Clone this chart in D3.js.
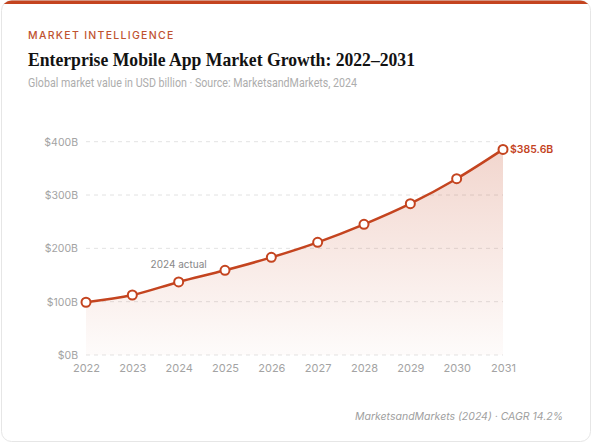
<!DOCTYPE html>
<html><head><meta charset="utf-8">
<script src="https://cdn.jsdelivr.net/npm/d3@7"></script>
<style>
html,body{margin:0;padding:0;background:#fff;}
svg{display:block;}
</style></head>
<body>
<svg id="chart" width="594" height="446"></svg>
<script>
const years = [2022,2023,2024,2025,2026,2027,2028,2029,2030,2031];
const values = [98.9,112.5,137.0,158.8,183.1,211.3,245.0,283.8,330.6,385.6];
const yTicks = [0,100,200,300,400];
const yTickLabels = ["$0B","$100B","$200B","$300B","$400B"];
const annotationYear = 2024;
const annotationText = "2024 actual";
const endLabel = "$385.6B";

const accent = "#c4441f";
const svg = d3.select("#chart");
const W = 594, H = 446;
const sans = "Inter, 'Noto Sans', sans-serif";

// card
const defs = svg.append("defs");
defs.append("clipPath").attr("id","cardClip")
  .append("rect").attr("x",1.5).attr("y",0.5).attr("width",589).attr("height",441).attr("rx",10);
const grad = defs.append("linearGradient").attr("id","areaGrad").attr("x1",0).attr("y1",0).attr("x2",0).attr("y2",1);
grad.append("stop").attr("offset","0%").attr("stop-color",accent).attr("stop-opacity",0.22);
grad.append("stop").attr("offset","100%").attr("stop-color",accent).attr("stop-opacity",0.02);

svg.append("rect").attr("x",1.5).attr("y",0.5).attr("width",589).attr("height",441).attr("rx",10)
  .attr("fill","#fff").attr("stroke","#e6e6e6");
svg.append("g").attr("clip-path","url(#cardClip)")
  .append("rect").attr("x",0).attr("y",0).attr("width",W).attr("height",4).attr("fill",accent);

// header
svg.append("text").attr("x",28).attr("y",39).text("MARKET INTELLIGENCE")
  .attr("font-family",sans).attr("font-size",10.5).attr("font-weight",500)
  .attr("letter-spacing",1.3).attr("fill","#c0522f");
svg.append("text").attr("x",28).attr("y",65.5).text("Enterprise Mobile App Market Growth: 2022–2031")
  .attr("font-family","'Liberation Serif', 'DejaVu Serif', serif").attr("font-size",19.5).attr("font-weight",700)
  .attr("fill","#121212").attr("textLength",387).attr("lengthAdjust","spacingAndGlyphs");
svg.append("text").attr("x",28).attr("y",86.5).text("Global market value in USD billion · Source: MarketsandMarkets, 2024")
  .attr("font-family","Roboto, 'Noto Sans', sans-serif").attr("font-size",12.2)
  .attr("fill","#adadad").attr("textLength",329).attr("lengthAdjust","spacingAndGlyphs");

// scales
const x = d3.scalePoint().domain(years).range([86,503]);
const y = d3.scaleLinear().domain([0,400]).range([355,141.7]);

// grid
const grid = svg.append("g");
grid.selectAll("line").data(yTicks).join("line")
  .attr("x1",86).attr("x2",503).attr("y1",d=>y(d)).attr("y2",d=>y(d))
  .attr("stroke","#e3e3e3").attr("stroke-dasharray","4,4").attr("stroke-width",1);

// y axis
const yAxis = d3.axisLeft(y).tickValues(yTicks).tickFormat((d,i)=>yTickLabels[i]).tickSize(0).tickPadding(8);
const gy = svg.append("g").attr("transform","translate(86,0)").call(yAxis);
gy.select(".domain").remove();
gy.selectAll("text").attr("font-family",sans).attr("font-size",10.5).attr("fill","#a3a3a3");

// x axis
const xAxis = d3.axisBottom(x).tickSize(0).tickPadding(9).tickFormat(d3.format("d"));
const gx = svg.append("g").attr("transform","translate(0,355)").call(xAxis);
gx.select(".domain").remove();
gx.selectAll("text").attr("font-family",sans).attr("font-size",11).attr("fill","#a3a3a3");

const data = years.map((yr,i)=>({yr, v: values[i]}));

// area
const area = d3.area().x(d=>x(d.yr)).y0(y(0)).y1(d=>y(d.v)).curve(d3.curveMonotoneX);
svg.append("path").datum(data).attr("d",area).attr("fill","url(#areaGrad)");

// line
const line = d3.line().x(d=>x(d.yr)).y(d=>y(d.v)).curve(d3.curveMonotoneX);
svg.append("path").datum(data).attr("d",line).attr("fill","none").attr("stroke",accent).attr("stroke-width",2.5);

// points
svg.append("g").selectAll("circle").data(data).join("circle")
  .attr("cx",d=>x(d.yr)).attr("cy",d=>y(d.v)).attr("r",4.5)
  .attr("fill","#fff").attr("stroke",accent).attr("stroke-width",2);

// annotation
const ad = data.find(d=>d.yr===annotationYear);
svg.append("text").attr("x",x(ad.yr)).attr("y",y(ad.v)-14).attr("text-anchor","middle")
  .text(annotationText).attr("font-family",sans).attr("font-size",10).attr("fill","#888");

// end label
const last = data[data.length-1];
svg.append("text").attr("x",x(last.yr)+7).attr("y",y(last.v)+4).text(endLabel)
  .attr("font-family",sans).attr("font-size",10.5).attr("font-weight",600).attr("fill",accent);

// footer
svg.append("text").attr("x",563).attr("y",420).attr("text-anchor","end")
  .text("MarketsandMarkets (2024) · CAGR 14.2%")
  .attr("font-family",sans).attr("font-size",10.5).attr("font-style","italic").attr("fill","#a0a0a0");
</script>
</body></html>
